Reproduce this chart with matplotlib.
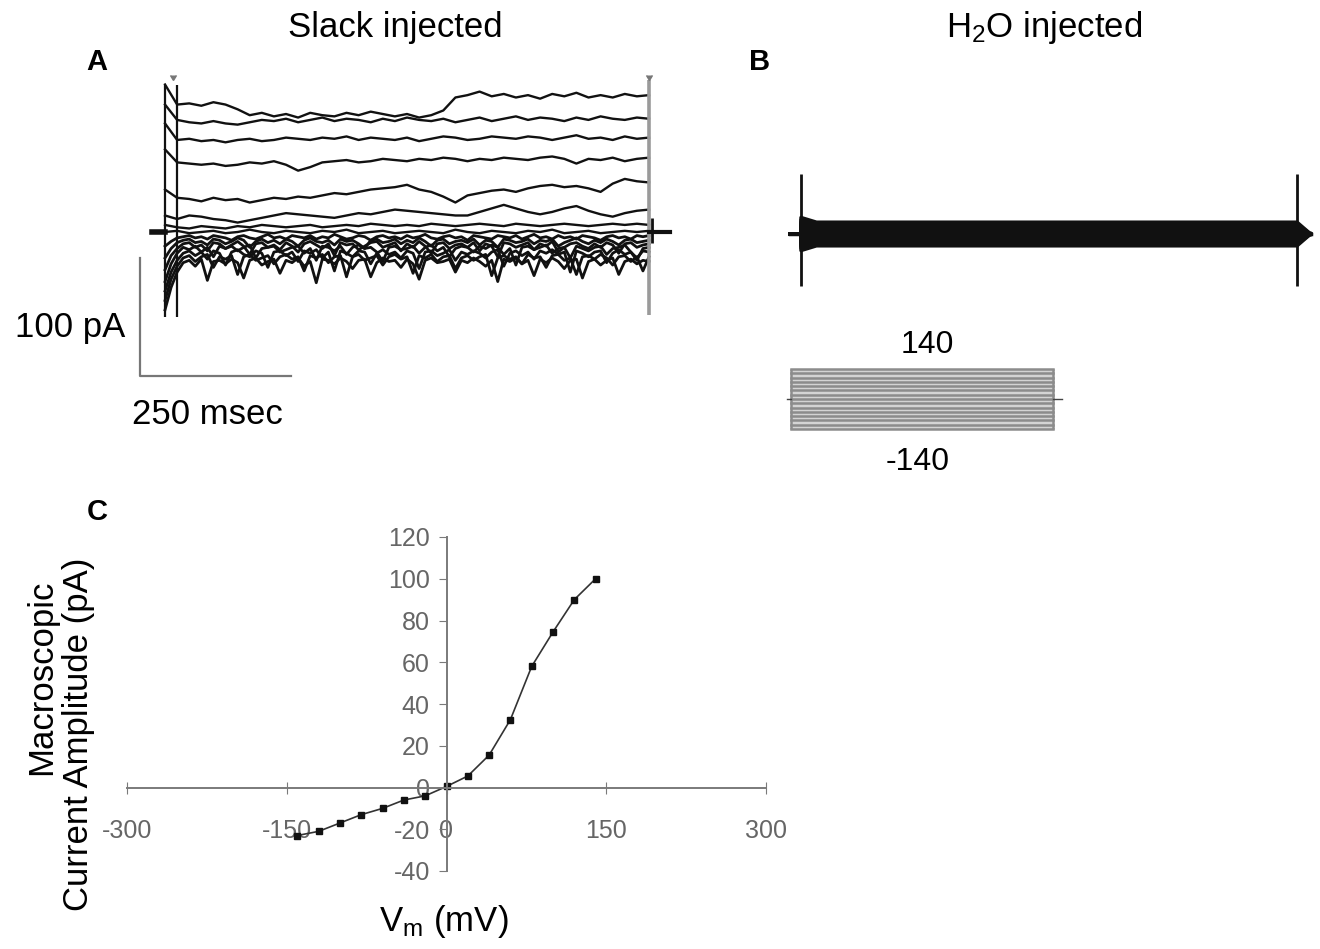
import numpy as np
import matplotlib.pyplot as plt

plt.rcParams['font.family'] = ['Liberation Sans', 'DejaVu Sans']
plt.rcParams['mathtext.fontset'] = 'custom'
plt.rcParams['mathtext.rm'] = 'Liberation Sans'
plt.rcParams['mathtext.it'] = 'Liberation Sans:italic'
plt.rcParams['axes.unicode_minus'] = False

W, H = 1320, 949

# step protocol (mV)
step_mv = [-140, -120, -100, -80, -60, -40, -20, 0, 20, 40, 60, 80, 100, 120, 140]

# A: Slack injected, current (pA) sampled evenly across the 800 ms step
i_p140 = [125, 108, 109, 107, 110, 108, 104, 99, 101, 98, 100, 97, 101, 99, 98, 101, 99, 102, 100, 98, 100,
          97, 99, 103, 114, 116, 119, 115, 117, 114, 116, 113, 117, 115, 118, 114, 116, 114, 117, 115, 116]
i_p120 = [108, 95, 93, 92, 94, 92, 91, 93, 95, 94, 96, 93, 95, 97, 94, 96, 95, 93, 96, 94, 97,
          95, 94, 96, 93, 95, 97, 94, 96, 98, 95, 97, 96, 94, 97, 95, 98, 96, 95, 97, 96]
i_p100 = [92, 78, 79, 77, 78, 76, 78, 79, 77, 78, 80, 79, 78, 80, 79, 81, 78, 80, 79, 78, 80,
          77, 79, 81, 80, 78, 79, 81, 80, 79, 81, 80, 78, 80, 82, 79, 80, 78, 81, 79, 80]
i_p80 = [70, 59, 58, 57, 58, 56, 57, 59, 58, 60, 57, 52, 55, 59, 60, 61, 59, 60, 62, 61, 60,
         62, 61, 63, 62, 60, 62, 61, 63, 62, 61, 63, 64, 62, 58, 62, 61, 63, 60, 62, 63]
i_p60 = [36, 29, 28, 26, 29, 27, 28, 25, 27, 29, 28, 30, 29, 31, 33, 32, 34, 36, 37, 38, 40,
         36, 34, 30, 25, 31, 33, 35, 36, 34, 37, 39, 40, 38, 39, 37, 34, 41, 45, 43, 42]
i_p40 = [14, 11, 14, 13, 11, 10, 8, 10, 12, 14, 16, 15, 14, 13, 12, 14, 16, 15, 17, 19, 18,
         17, 16, 15, 14, 14, 17, 20, 23, 20, 17, 15, 17, 20, 22, 18, 15, 13, 16, 18, 19]
i_p20 = [6, 4, 3, 5, 4, 3, 5, 4, 6, 5, 4, 5, 6, 4, 5, 6, 5, 7, 6, 5, 6,
         5, 7, 6, 5, 6, 7, 6, 5, 7, 6, 5, 6, 7, 6, 5, 6, 7, 6, 7, 6]
i_0 = [0, 1, -1, 0, 1, -1, 0, 2, 0, -1, 1, 0, -1, 1, 0, 2, -1, 0, 1, -1, 0,
       1, 0, -1, 2, 0, -1, 1, 0, -1, 1, 0, 2, -1, 0, 1, -1, 0, 1, 0, 1]
i_m20 = [-12, -8, -5, -4, -3, -5, -4, -6, -3, -4, -5, -7, -4, -3, -5, -6, -4, -2, -5, -4,
         -6, -3, -4, -5, -3, -6, -4, -5, -2, -4, -6, -5, -3, -4, -7, -4, -3, -5, -4, -6,
         -3, -5, -4, -2, -5, -6, -4, -3, -5, -4, -7, -3, -4, -5, -6, -3, -4, -5, -3, -6,
         -4, -2, -5, -4, -6, -3, -5, -4, -6, -3, -4, -5, -7, -4, -3, -5, -4, -6, -3, -4, -3]
i_m40 = [-22, -14, -9, -7, -6, -9, -8, -11, -6, -7, -10, -8, -5, -7, -13, -8, -6, -9, -7, -10,
         -6, -8, -12, -7, -5, -8, -9, -7, -11, -6, -8, -7, -10, -14, -7, -6, -9, -8, -6, -10,
         -7, -9, -5, -8, -12, -7, -6, -10, -8, -7, -9, -6, -11, -7, -8, -13, -6, -7, -9, -8,
         -6, -10, -7, -8, -6, -12, -9, -7, -5, -8, -10, -7, -9, -6, -8, -11, -7, -6, -9, -8, -7]
i_m60 = [-32, -20, -14, -10, -9, -13, -11, -16, -9, -10, -14, -11, -8, -12, -19, -10, -9, -13, -11, -15,
         -9, -12, -17, -10, -8, -11, -14, -10, -20, -9, -11, -10, -15, -12, -9, -8, -13, -11, -9, -16,
         -10, -13, -8, -12, -18, -10, -9, -14, -11, -10, -13, -9, -16, -10, -12, -21, -9, -10, -13, -11,
         -9, -15, -10, -12, -8, -17, -13, -10, -9, -12, -14, -10, -13, -9, -11, -18, -10, -9, -13, -11, -10]
i_m80 = [-42, -27, -18, -13, -15, -12, -17, -13, -21, -12, -14, -12, -16, -13, -11, -22, -14, -13, -12, -17,
         -15, -13, -12, -18, -14, -24, -12, -13, -16, -12, -19, -13, -11, -14, -13, -17, -25, -13, -12, -15,
         -14, -12, -18, -13, -11, -16, -13, -21, -14, -12, -13, -17, -12, -14, -11, -13, -19, -14, -28, -13,
         -12, -15, -13, -11, -18, -14, -13, -22, -12, -14, -16, -13, -12, -19, -14, -13, -11, -17, -24, -14, -13]
i_m100 = [-50, -34, -24, -18, -16, -20, -17, -23, -16, -18, -28, -17, -15, -19, -21, -16, -18, -30, -17, -16,
          -20, -17, -25, -16, -18, -15, -22, -17, -33, -16, -18, -21, -16, -17, -27, -18, -15, -19, -17, -22,
          -16, -18, -31, -17, -16, -20, -18, -15, -24, -17, -19, -16, -18, -22, -17, -15, -29, -18, -16, -20,
          -17, -23, -16, -18, -15, -19, -17, -34, -16, -18, -21, -17, -16, -26, -18, -15, -19, -17, -22, -16, -17]
i_m120 = [-58, -40, -29, -22, -20, -25, -21, -19, -30, -21, -23, -20, -36, -21, -19, -24, -22, -20, -27, -21,
          -19, -23, -21, -33, -20, -22, -19, -26, -21, -20, -38, -21, -19, -24, -22, -20, -28, -21, -19, -23,
          -21, -35, -20, -22, -19, -25, -21, -20, -31, -22, -20, -24, -21, -19, -37, -22, -20, -23, -21, -27,
          -19, -22, -21, -30, -20, -19, -24, -22, -36, -21, -20, -23, -19, -22, -28, -21, -20, -25, -21, -33, -21]
i_m140 = [-66, -47, -34, -26, -24, -29, -23, -41, -25, -24, -27, -23, -26, -39, -24, -22, -28, -25, -23, -35,
          -24, -26, -22, -29, -25, -43, -23, -24, -27, -22, -25, -31, -24, -23, -38, -26, -22, -25, -24, -30,
          -23, -27, -40, -24, -22, -26, -25, -23, -34, -24, -26, -22, -25, -29, -24, -42, -23, -25, -22, -27,
          -24, -37, -23, -26, -22, -25, -31, -24, -23, -39, -25, -23, -28, -24, -22, -36, -25, -23, -27, -24, -25]

# B: H2O injected, onset and steady current (pA) per sweep
h2o_onset = [-14, -12, -10, -8, -6, -4, -2, 0, 2, 4, 6, 8, 10, 12, 14]
h2o_steady = [-10, -8.5, -7, -5.5, -4, -2.5, -1, 0, 1, 2.5, 4, 5.5, 7, 8.5, 10]

# C: I-V relation
iv_mv = [-140, -120, -100, -80, -60, -40, -20, 0, 20, 40, 60, 80, 100, 120, 140]
iv_pa = [-23, -21, -17, -13, -10, -6, -4, 0.5, 5.5, 15.5, 32.5, 58, 74.5, 90, 100]


def px_axes(x0, y0, x1, y1):
    ax = fig.add_axes([x0 / W, 1 - y1 / H, (x1 - x0) / W, (y1 - y0) / H])
    return ax


def px_text(x, y, s, **kw):
    fig.text(x / W, 1 - y / H, s, ha='center', va='center', **kw)


fig = plt.figure(figsize=(W / 100, H / 100), dpi=100)

# ---- panel A ----
axA = px_axes(130, 70, 690, 390)
axA.set_xlim(-57.9, 867.8)
axA.set_ylim(-133.9, 137.3)
axA.axis('off')
neg = [i_m140, i_m120, i_m100, i_m80, i_m60, i_m40, i_m20]
pos = [i_0, i_p20, i_p40, i_p60, i_p80, i_p100, i_p120, i_p140]
for tr in neg:
    axA.plot(np.linspace(0, 800, len(tr)), tr, color='#111111', lw=2.0)
for tr in pos:
    axA.plot(np.linspace(0, 800, len(tr)), tr, color='#111111', lw=1.7)
axA.vlines([0, 20], -72, 125, color='#111111', lw=1.6)
axA.vlines([800], -70, 129, color='#9a9a9a', lw=2.6)
axA.vlines([805], -9, 12, color='#111111', lw=2)
axA.plot([-22, 0], [0, 0], color='#111111', lw=4)
axA.plot([800, 835], [0, 0], color='#111111', lw=3)
axA.plot([13, 800], [129, 129], ls='none', marker=7, ms=5, color='#777777')
# scale bar
axA.plot([-41.3, -41.3, 208.7], [-22, -122, -122], color='#777777', lw=1.6)
px_text(70, 327, '100 pA', fontsize=25)
px_text(207, 415, '250 msec', fontsize=25)

# ---- panel B ----
axB = px_axes(770, 150, 1320, 310)
axB.set_xlim(-50, 837)
axB.set_ylim(-64.4, 71.2)
axB.axis('off')
for a, b in zip(h2o_onset, h2o_steady):
    axB.plot([-18, 0, 0, 25, 800, 822], [0, 0, a, b, b, 0], color='#111111', lw=2.5)
axB.vlines([0, 800], -44, 51, color='#111111', lw=2)

# voltage protocol
axP = px_axes(770, 360, 1090, 440)
axP.set_xlim(-64, 913)
axP.set_ylim(-191, 182)
axP.axis('off')
axP.fill_between([0, 800], -140, 140, color='#d4d4d4', lw=0)
for v in step_mv:
    axP.plot([0, 800], [v, v], color='#8c8c8c', lw=1.8)
axP.vlines([0, 800], -140, 140, color='#8c8c8c', lw=1.8)
axP.plot([-12, 0], [0, 0], color='#444444', lw=1)
axP.plot([800, 827], [0, 0], color='#444444', lw=1)
px_text(927, 345, '140', fontsize=23)
px_text(918, 462, '-140', fontsize=23)

# ---- panel C ----
axC = px_axes(127, 537, 766, 871)
axC.plot(iv_mv, iv_pa, color='#333333', lw=1.2, marker='s', ms=5,
         mfc='#111111', mec='#111111')
axC.set_xlim(-300, 300)
axC.set_ylim(-40, 120)
axC.set_xticks([-300, -150, 0, 150, 300])
axC.set_yticks(range(-40, 121, 20))
for s in ['top', 'right']:
    axC.spines[s].set_visible(False)
for s in ['left', 'bottom']:
    axC.spines[s].set_position(('data', 0))
    axC.spines[s].set_color('#7a7a7a')
    axC.spines[s].set_linewidth(1.4)
axC.tick_params(axis='x', direction='inout', length=8, pad=19, labelsize=18,
                colors='#7a7a7a', labelcolor='#666666')
axC.tick_params(axis='y', direction='out', length=6, pad=6, labelsize=18,
                colors='#7a7a7a', labelcolor='#666666')
axC.set_facecolor('none')
px_text(444, 922, 'V$_\\mathrm{m}$ (mV)', fontsize=25)
px_text(42, 677, 'Macroscopic', fontsize=25, rotation=90)
px_text(79, 734, 'Current Amplitude (pA)', fontsize=25, rotation=90)

# titles and panel letters
px_text(395, 27, 'Slack injected', fontsize=25)
px_text(1044, 27, 'H$_\\mathrm{2}$O injected', fontsize=25)
px_text(97, 62, 'A', fontsize=21, fontweight='bold')
px_text(760, 62, 'B', fontsize=21, fontweight='bold')
px_text(97, 512, 'C', fontsize=21, fontweight='bold')

fig.savefig('out.png', dpi=100)
